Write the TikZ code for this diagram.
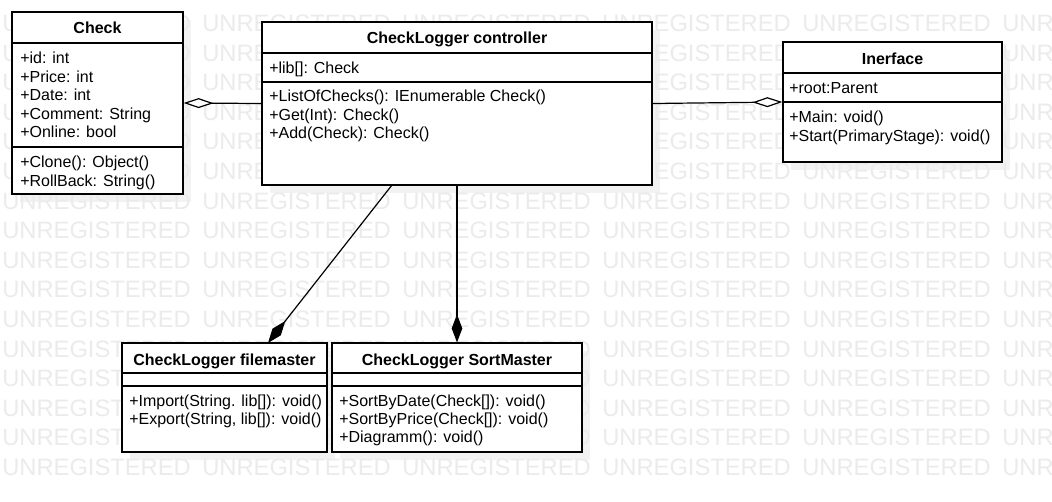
\documentclass[tikz,border=0pt]{standalone}
\usepackage{fontspec}
\setmainfont{Liberation Sans}
\usetikzlibrary{arrows.meta,fit}
\begin{document}
\begin{tikzpicture}[x=0.75pt,y=-0.75pt,
  font=\fontsize{12}{14}\selectfont,
  umlbox/.style={draw, fill=white, inner sep=0pt, line width=0.9pt},
  sepline/.style={line width=0.9pt},
  title/.style={anchor=base, inner sep=0pt, font=\fontsize{12}{14}\selectfont\bfseries},
  member/.style={anchor=base west, inner sep=0pt},
  wm/.style={anchor=base west, inner sep=0pt, text=black!8, font=\fontsize{17.8}{20}\selectfont},
  shadowc/.style={fill=black!5},
  agg/.style={line width=0.9pt, -{Diamond[fill=white,length=22.5pt,width=7.5pt]}},
  comp/.style={line width=0.9pt, -{Diamond[fill=black,length=21pt,width=8pt]}}]
\useasboundingbox (0,0) rectangle (1052,502);
\fill[white] (0,0) rectangle (1052,502);
% box corners
\coordinate (check-a) at (12,12);   \coordinate (check-b) at (183,194);
\coordinate (ctrl-a)  at (262,22);  \coordinate (ctrl-b)  at (652,185);
\coordinate (iface-a) at (783,42);  \coordinate (iface-b) at (1002,162);
\coordinate (file-a)  at (122,343); \coordinate (file-b)  at (327,452);
\coordinate (sort-a)  at (332,343); \coordinate (sort-b)  at (582,452);
% shadows
\foreach \b in {check,ctrl,iface,file,sort}
  \fill[shadowc] ([shift={(8,8)}]\b-a) rectangle ([shift={(8,8)}]\b-b);
% watermark
\begin{scope}
\clip (0,0) rectangle (1052,502);
\foreach \r in {0,...,15}
  \foreach \c in {0,...,5}
    \node[wm] (wm-\r-\c) at ({2+200*\c},{31.5+29.6*\r}) {UNREGISTERED};
\end{scope}
% boxes
\node[umlbox, fit=(check-a)(check-b)] (check) {};
\node[umlbox, fit=(ctrl-a)(ctrl-b)] (ctrl) {};
\node[umlbox, fit=(iface-a)(iface-b)] (iface) {};
\node[umlbox, fit=(file-a)(file-b)] (file) {};
\node[umlbox, fit=(sort-a)(sort-b)] (sort) {};
% separators
\draw[sepline] (12,43) -- (183,43);  \draw[sepline] (12,147) -- (183,147);
\draw[sepline] (262,53) -- (652,53); \draw[sepline] (262,82) -- (652,82);
\draw[sepline] (783,73) -- (1002,73); \draw[sepline] (783,102) -- (1002,102);
\draw[sepline] (122,373) -- (327,373); \draw[sepline] (122,386) -- (327,386);
\draw[sepline] (332,373) -- (582,373); \draw[sepline] (332,386) -- (582,386);
% Check
\node[title] (check-t) at (97.5,34) {Check};
\node[member] (check-1) at (20,64) {+id: int};
\node[member] (check-2) at (20,82.4) {+Price: int};
\node[member] (check-3) at (20,100.8) {+Date: int};
\node[member] (check-4) at (20,119.2) {+Comment: String};
\node[member] (check-5) at (20,137.6) {+Online: bool};
\node[member] (check-6) at (20,168) {+Clone(): Object()};
\node[member] (check-7) at (20,186.4) {+RollBack: String()};
% controller
\node[title] (ctrl-t) at (457,44) {CheckLogger controller};
\node[member] (ctrl-1) at (269,74) {+lib[]: Check};
\node[member] (ctrl-2) at (269,102) {+ListOfChecks(): IEnumerable Check()};
\node[member] (ctrl-3) at (269,120.4) {+Get(Int): Check()};
\node[member] (ctrl-4) at (269,138.8) {+Add(Check): Check()};
% interface
\node[title] (iface-t) at (892.5,65) {Inerface};
\node[member] (iface-1) at (789,94) {+root:Parent};
\node[member] (iface-2) at (789,123) {+Main: void()};
\node[member] (iface-3) at (789,141.4) {+Start(PrimaryStage): void()};
% filemaster
\node[title] (file-t) at (224.5,365) {CheckLogger filemaster};
\node[member] (file-1) at (129,406) {+Import(String. lib[]): void()};
\node[member] (file-2) at (129,424.4) {+Export(String, lib[]): void()};
% sortmaster
\node[title] (sort-t) at (457,365) {CheckLogger SortMaster};
\node[member] (sort-1) at (339,406) {+SortByDate(Check[]): void()};
\node[member] (sort-2) at (339,424.4) {+SortByPrice(Check[]): void()};
\node[member] (sort-3) at (339,442.8) {+Diagramm(): void()};
% connectors
\coordinate (ctrl-out) at (392,185);
\coordinate (file-in) at (268,343);
\draw[agg] (ctrl.west) -- (check.east);
\draw[agg] (ctrl.east) -- (iface.west);
\draw[comp] (ctrl-out) -- (file-in);
\draw[comp] (ctrl.south) -- (sort.north);
\end{tikzpicture}
\end{document}
